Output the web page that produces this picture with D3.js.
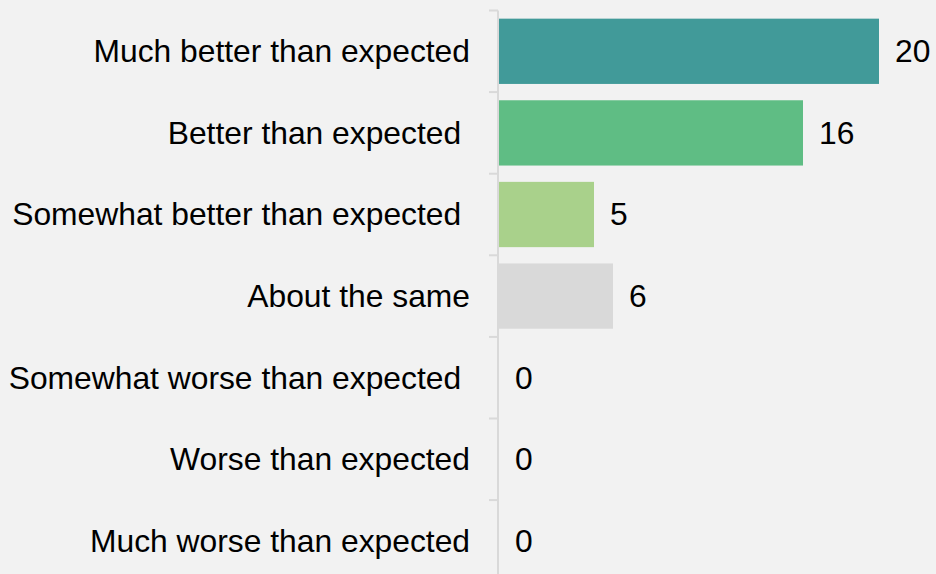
<!DOCTYPE html>
<html>
<head>
<meta charset="utf-8">
<script src="https://cdn.jsdelivr.net/npm/d3@7"></script>
<style>
  html, body { margin: 0; padding: 0; background: #f2f2f2; }
  svg { display: block; }
  text { font-family: "Liberation Sans", Arial, sans-serif; white-space: pre; }
</style>
</head>
<body>
<div id="chart"></div>
<script>
// data
var categories = [
    'Much better than expected',
    'Better than expected ',
    'Somewhat better than expected ',
    'About the same',
    'Somewhat worse than expected ',
    'Worse than expected',
    'Much worse than expected'
]
var values = [20, 16, 5, 6, 0, 0, 0]
var colors = ['#419a99', '#5fbd84', '#a9d18b', '#d9d9d9', '#d9d9d9', '#d9d9d9', '#d9d9d9']

// svg dimensions
var w = 936,
    h = 574,
    ax = 499,
    y0 = 10.5,
    step = 81.6,
    fs = 31.8

var svg = d3.select('#chart')
    .append('svg')
    .attr('width', w)
    .attr('height', h)

svg.append('rect')
    .attr('width', w)
    .attr('height', h)
    .attr('fill', '#f2f2f2')

// scales
var xscale = d3.scaleLinear()
    .domain([0, 20])
    .range([ax, ax + 380])

var yscale = d3.scaleBand()
    .domain(categories)
    .range([y0, y0 + step * categories.length])
    .paddingInner(0.2)
    .paddingOuter(0.1)

// axis line + ticks at band boundaries
svg.append('line')
    .attr('x1', ax - 1)
    .attr('x2', ax - 1)
    .attr('y1', y0)
    .attr('y2', h)
    .attr('stroke', '#d9d9d9')
    .attr('stroke-width', 2)

svg.selectAll('.tick')
    .data(d3.range(categories.length + 1))
    .enter()
    .append('line')
    .attr('class', 'tick')
    .attr('x1', ax - 10)
    .attr('x2', ax - 1)
    .attr('y1', d => y0 + d * yscale.step())
    .attr('y2', d => y0 + d * yscale.step())
    .attr('stroke', '#d9d9d9')
    .attr('stroke-width', 2)

// bars
svg.selectAll('.bar')
    .data(values)
    .enter()
    .append('rect')
    .attr('class', 'bar')
    .attr('x', xscale(0))
    .attr('y', (d, i) => yscale(categories[i]))
    .attr('width', d => xscale(d) - xscale(0))
    .attr('height', yscale.bandwidth())
    .attr('fill', (d, i) => colors[i])

// category labels
svg.selectAll('.label')
    .data(categories)
    .enter()
    .append('text')
    .attr('class', 'label')
    .attr('x', ax - 29)
    .attr('y', d => yscale(d) + yscale.bandwidth() / 2)
    .attr('dy', '0.34em')
    .attr('text-anchor', 'end')
    .attr('font-size', fs)
    .attr('fill', '#000')
    .text(d => d)

// value labels
svg.selectAll('.value')
    .data(values)
    .enter()
    .append('text')
    .attr('class', 'value')
    .attr('x', d => xscale(d) + 16)
    .attr('y', (d, i) => yscale(categories[i]) + yscale.bandwidth() / 2)
    .attr('dy', '0.34em')
    .attr('font-size', fs)
    .attr('fill', '#000')
    .text(d => d)
</script>
</body>
</html>
